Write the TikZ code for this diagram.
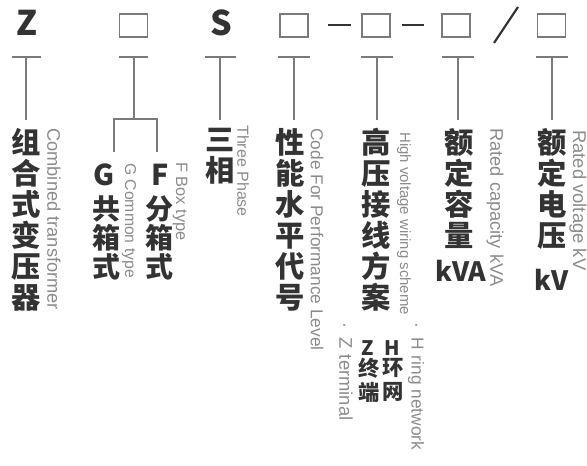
\documentclass[tikz,border=0pt]{standalone}
\usepackage{fontspec}
\setmainfont{Liberation Sans}
\newfontfamily\cjk{Noto Sans CJK SC}
\usepackage{xcolor}
\definecolor{inkdark}{HTML}{333333}
\definecolor{inkgray}{HTML}{8C8C8C}
\definecolor{rulegray}{HTML}{7A7A7A}
\usepackage{tikz}

\begin{document}
\begin{tikzpicture}[x=0.75pt,y=0.75pt,yscale=-1,xscale=1,
  rule/.style={draw=rulegray, line width=0.95},
  codebox/.style={draw=rulegray, line width=0.9, minimum width=21pt, minimum height=17.25pt, inner sep=0pt},
  bigletter/.style={inner sep=0pt, text=inkdark, font=\cjk\bfseries\fontsize{25.5}{25.5}\selectfont},
  hanzi/.style={anchor=north, inner sep=0pt, align=center, text=inkdark, font=\cjk\bfseries\fontsize{22}{23.25}\selectfont},
  engtext/.style={anchor=west, inner sep=0pt, rotate=-90, text=inkgray}]
\useasboundingbox (0,0) rectangle (587,466);

% Code symbols
\node [bigletter] (symZ) at (27.5,22.5) {Z};
\node [codebox] (box1) at (133.5,25.5) {};
\node [bigletter] (symS) at (221,22.5) {S};
\node [codebox] (box2) at (294,25.5) {};
\node [codebox] (box3) at (376,25.5) {};
\node [codebox] (box4) at (456,25.5) {};
\node [codebox] (box5) at (551.5,25.5) {};
%Straight Lines [dashes and slash]
\draw [draw=inkdark, line width=2.2]  (328,25) -- (351,25) ;
\draw [draw=inkdark, line width=2.2]  (402,25) -- (424,25) ;
\draw [draw=inkdark, line width=1.6]  (494,43) -- (518,7) ;

% Tee coordinates
\coordinate (tZ) at (26,57);   \coordinate (bZ) at (26,120);
\coordinate (t1) at (134,57);  \coordinate (b1) at (134,119);
\coordinate (tS) at (220,57);  \coordinate (bS) at (220,120);
\coordinate (t2) at (294,57);  \coordinate (b2) at (294,120);
\coordinate (t3) at (377,57);  \coordinate (b3) at (377,120);
\coordinate (t4) at (458,57);  \coordinate (b4) at (458,120);
\coordinate (t5) at (552,57);  \coordinate (b5) at (552,120);

%Straight Lines [tee bars]
\draw [rule]  (12,57) -- (41,57) ;
\draw [rule]  (119,57) -- (148,57) ;
\draw [rule]  (205,57) -- (236,57) ;
\draw [rule]  (278,57) -- (310,57) ;
\draw [rule]  (361,57) -- (393,57) ;
\draw [rule]  (442,57) -- (474,57) ;
\draw [rule]  (536,57) -- (568,57) ;
%Straight Lines [tee stems]
\draw [rule]  (tZ) -- (bZ) ;
\draw [rule]  (t1) -- (b1) ;
\draw [rule]  (tS) -- (bS) ;
\draw [rule]  (t2) -- (b2) ;
\draw [rule]  (t3) -- (b3) ;
\draw [rule]  (t4) -- (b4) ;
\draw [rule]  (t5) -- (b5) ;
%Straight Lines [bracket]
\draw [rule]  (114,152) -- (114,119) -- (157,119) -- (157,152) ;

% Text Node
\node [hanzi] (combined) at (26,128) {组\\合\\式\\变\\压\\器};
\node [engtext, font=\fontsize{13.7}{14}\selectfont] (combinedEn) at (54,128) {Combined transformer};
% Text Node
\node [hanzi, font=\cjk\bfseries\fontsize{21.5}{21.5}\selectfont] (letterG) at (104,164) {G};
\node [hanzi, font=\cjk\bfseries\fontsize{21}{21.75}\selectfont] (common) at (106,195) {共\\箱\\式};
\node [engtext, font=\fontsize{11.8}{12}\selectfont] (commonEn) at (129,163) {G Common type};
\node [hanzi, font=\cjk\bfseries\fontsize{21.5}{21.5}\selectfont] (letterF) at (160,164) {F};
\node [hanzi, font=\cjk\bfseries\fontsize{21}{21.75}\selectfont] (split) at (160,195) {分\\箱\\式};
\node [engtext, font=\fontsize{12.3}{12}\selectfont] (splitEn) at (180,162) {F Box type};
% Text Node
\node [hanzi] (phase) at (220,128) {三\\相};
\node [engtext, font=\fontsize{12}{12}\selectfont] (phaseEn) at (243,125) {Three Phase};
% Text Node
\node [hanzi] (level) at (290,128) {性\\能\\水\\平\\代\\号};
\node [engtext, font=\fontsize{13}{13}\selectfont] (levelEn) at (317,128) {Code For Performance Level};
\node [engtext, font=\fontsize{13.8}{14}\selectfont] (terminalEn) at (346,322) {·\hspace{7pt}Z\hspace{4.5pt}terminal};
% Text Node
\node [hanzi] (wiring) at (376,128) {高\\压\\接\\线\\方\\案};
\node [engtext, font=\fontsize{11.2}{12}\selectfont] (wiringEn) at (404,132) {High voltage wiring scheme};
\node [hanzi, font=\cjk\bfseries\fontsize{15}{15}\selectfont] (letterZ) at (368,340) {Z};
\node [hanzi, font=\cjk\bfseries\fontsize{16}{18}\selectfont] (terminal) at (369,358) {终\\端};
\node [hanzi, font=\cjk\bfseries\fontsize{15}{15}\selectfont] (letterH) at (392,340) {H};
\node [hanzi, font=\cjk\bfseries\fontsize{16}{18}\selectfont] (ring) at (393,358) {环\\网};
\node [engtext, font=\fontsize{13}{13}\selectfont] (ringEn) at (416,322) {·\hspace{7pt}H\hspace{4.5pt}ring network};
% Text Node
\node [hanzi] (capacity) at (459,128) {额\\定\\容\\量};
\node [hanzi, font=\cjk\bfseries\fontsize{20}{20}\selectfont] (kva) at (461,260) {kVA};
\node [engtext, font=\fontsize{13.7}{14}\selectfont] (capacityEn) at (495,128) {Rated capacity kVA};
% Text Node
\node [hanzi] (voltage) at (552,128) {额\\定\\电\\压};
\node [hanzi, font=\cjk\bfseries\fontsize{20}{20}\selectfont] (kv) at (552,269) {kV};
\node [engtext, font=\fontsize{13.8}{14}\selectfont] (voltageEn) at (578,130) {Rated voltage kV};

\end{tikzpicture}
\end{document}
